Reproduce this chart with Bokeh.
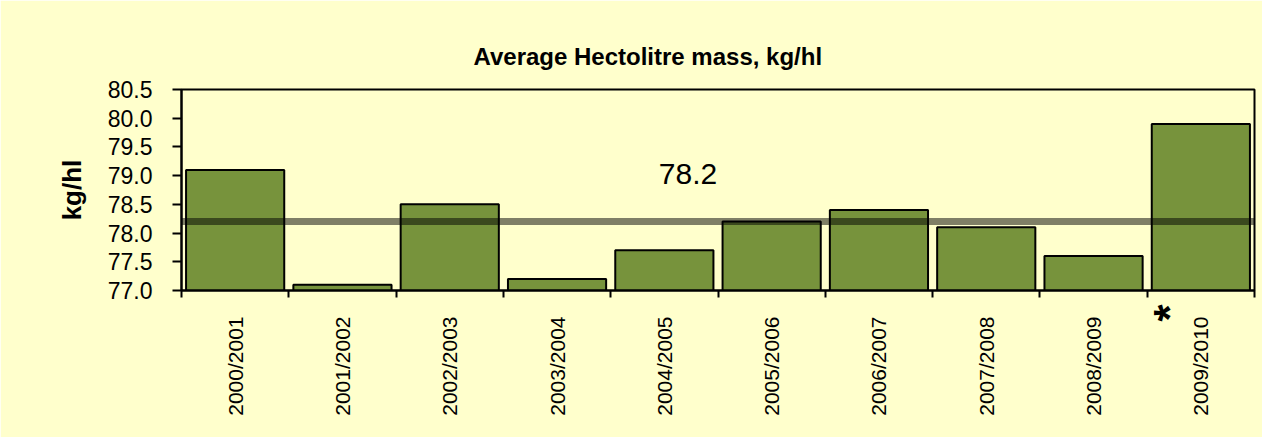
from bokeh.plotting import figure
from bokeh.models import FixedTicker, Span, Label, Range1d, Title, ColumnDataSource, LinearAxis
from bokeh.embed import file_html
from bokeh.resources import INLINE
import math

seasons = ["2000/2001", "2001/2002", "2002/2003", "2003/2004", "2004/2005",
           "2005/2006", "2006/2007", "2007/2008", "2008/2009", "2009/2010"]
mass = [79.1, 77.1, 78.5, 77.2, 77.7, 78.2, 78.4, 78.1, 77.6, 79.9]
average = 78.2
y_ticks = [77.0, 77.5, 78.0, 78.5, 79.0, 79.5, 80.0, 80.5]

FONT = "Liberation Sans"
BG = "#FFFFCC"

n = len(seasons)
centers = [i + 0.5 for i in range(n)]
src = ColumnDataSource(dict(x=centers, top=mass, season=seasons))

p = figure(width=1262, height=437, output_backend="svg", toolbar_location=None,
           x_range=Range1d(0, n), y_range=Range1d(77.0, 80.5),
           min_border_left=181, min_border_right=8, min_border_top=89,
           min_border_bottom=147, title=None)
p.background_fill_color = BG
p.border_fill_color = BG
p.outline_line_color = "black"
p.outline_line_width = 2
p.grid.visible = False

p.vbar(x="x", top="top", bottom=77.0, width=0.915, source=src,
       fill_color="#77933C", line_color="black", line_width=2)

p.add_layout(Span(location=average, dimension="width", line_color="black",
                  line_alpha=0.5, line_width=7))

p.add_layout(Label(x=4.72, y=78.86, text=f"{average:.1f}", text_font=FONT,
                   text_font_size="30px", text_align="center", text_color="black"))

t = Title(text="Average Hectolitre  mass, kg/hl", text_font=FONT, text_font_style="bold",
          text_font_size="24px", align="left", offset=292, standoff=35,
          vertical_align="top", text_color="black")
p.add_layout(t, "above")

# x axis 1: boundary ticks and the asterisk note next to the last season
star_pos = 9.21
xa = p.xaxis[0]
xa.ticker = FixedTicker(ticks=[star_pos], minor_ticks=list(range(n + 1)))
xa.major_label_overrides = {star_pos: "*"}
xa.major_label_orientation = math.pi / 2
xa.major_tick_out = 0
xa.major_tick_in = 0
xa.minor_tick_out = 7
xa.minor_tick_in = 0
xa.minor_tick_line_width = 2
xa.minor_tick_line_color = "black"
xa.axis_line_width = 2
xa.major_label_standoff = 7
xa.major_label_text_font = FONT
xa.major_label_text_font_style = "bold"
xa.major_label_text_font_size = "44px"
xa.major_label_text_color = "black"

# x axis 2: season labels
xb = LinearAxis(ticker=FixedTicker(ticks=centers, minor_ticks=[]))
xb.major_label_overrides = {c: s for c, s in zip(centers, seasons)}
xb.major_label_orientation = math.pi / 2
xb.axis_line_color = None
xb.major_tick_line_color = None
xb.minor_tick_line_color = None
xb.major_tick_out = 0
xb.major_tick_in = 0
xb.minor_tick_out = 0
xb.minor_tick_in = 0
xb.major_label_standoff = -8
xb.major_label_text_font = FONT
xb.major_label_text_font_size = "21px"
xb.major_label_text_color = "black"
p.add_layout(xb, "below")

# y axis
ya = p.yaxis[0]
ya.ticker = FixedTicker(ticks=y_ticks, minor_ticks=[])
ya.major_label_overrides = {v: f"{v:.1f}" for v in y_ticks}
ya.major_tick_out = 9
ya.major_tick_in = 0
ya.major_tick_line_width = 2
ya.axis_line_width = 2
ya.major_label_standoff = 20
ya.major_label_text_font = FONT
ya.major_label_text_font_size = "23px"
ya.major_label_text_color = "black"
ya.axis_label = "kg/hl"
ya.axis_label_text_font = FONT
ya.axis_label_text_font_style = "bold"
ya.axis_label_text_font_size = "26px"
ya.axis_label_standoff = 18
ya.axis_label_text_color = "black"

open("out.html", "w").write(file_html(p, INLINE))
